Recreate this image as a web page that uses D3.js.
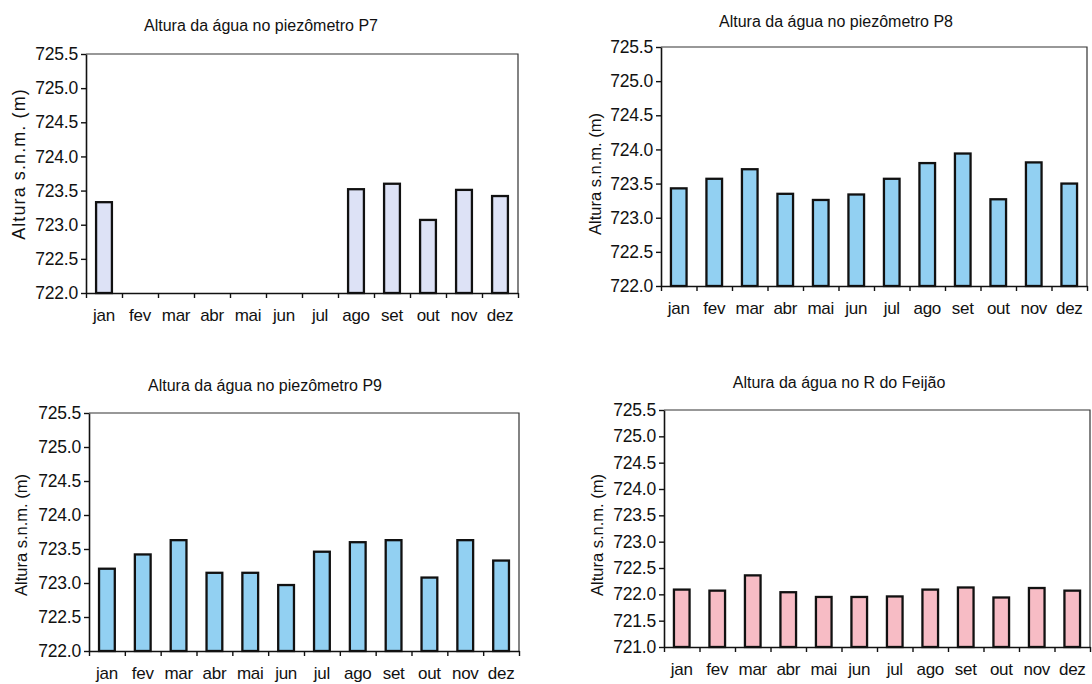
<!DOCTYPE html>
<html lang="pt">
<head>
<meta charset="utf-8">
<script src="https://cdn.jsdelivr.net/npm/d3@7/dist/d3.min.js"></script>
<style>
  html, body { margin: 0; padding: 0; background: #fff; }
  svg { display: block; font-family: "Liberation Sans", Arial, sans-serif; }
</style>
</head>
<body>
<svg id="chart" width="1092" height="684"></svg>
<script>
// Monthly water heights (m above sea level)
const months = ["jan", "fev", "mar", "abr", "mai", "jun", "jul", "ago", "set", "out", "nov", "dez"];

const p7Values = [723.33, null, null, null, null, null, null, 723.52, 723.60, 723.07, 723.51, 723.42];
const p8Values = [723.43, 723.57, 723.71, 723.35, 723.26, 723.34, 723.57, 723.80, 723.94, 723.27, 723.81, 723.50];
const p9Values = [723.21, 723.42, 723.63, 723.15, 723.15, 722.97, 723.46, 723.60, 723.63, 723.08, 723.63, 723.33];
const feijaoValues = [722.09, 722.07, 722.36, 722.04, 721.95, 721.95, 721.96, 722.09, 722.13, 721.94, 722.12, 722.07];

const titles = [
  "Altura da água no piezômetro P7",
  "Altura da água no piezômetro P8",
  "Altura da água no piezômetro P9",
  "Altura da água no R do Feijão"
];
const yAxisTitle = "Altura s.n.m. (m)";

const ticksPiezometer = [722.0, 722.5, 723.0, 723.5, 724.0, 724.5, 725.0, 725.5];
const ticksRiver = [721.0, 721.5, 722.0, 722.5, 723.0, 723.5, 724.0, 724.5, 725.0, 725.5];

// Layout of the four panels
const panels = [
  { title: titles[0], values: p7Values, ticks: ticksPiezometer, fill: "#dde2f6",
    box: { x0: 86, x1: 518, y0: 54, y1: 293 }, titleX: 261, titleY: 30.5,
    yLab: { x: 19, y: 164, size: 18, spacing: 1.1 } },
  { title: titles[1], values: p8Values, ticks: ticksPiezometer, fill: "#92d0f2",
    box: { x0: 661, x1: 1087, y0: 47, y1: 286 }, titleX: 836, titleY: 26.5,
    yLab: { x: 595, y: 174, size: 16.5, spacing: 0 } },
  { title: titles[2], values: p9Values, ticks: ticksPiezometer, fill: "#92d0f2",
    box: { x0: 89, x1: 519, y0: 413, y1: 651 }, titleX: 265, titleY: 391,
    yLab: { x: 21, y: 535, size: 16.5, spacing: 0 } },
  { title: titles[3], values: feijaoValues, ticks: ticksRiver, fill: "#f7bcc5",
    box: { x0: 664, x1: 1090, y0: 410, y1: 647 }, titleX: 839, titleY: 388,
    yLab: { x: 597, y: 535, size: 16.5, spacing: 0 } }
];

const svg = d3.select("#chart");
const ink = "#111";
const font = "'Liberation Sans', Arial, sans-serif";

panels.forEach(p => {
  const { x0, x1, y0, y1 } = p.box;
  const g = svg.append("g");

  const x = d3.scaleBand().domain(months).range([x0, x1]).paddingInner(0.56).paddingOuter(0.28);
  const slots = d3.scaleLinear().domain([0, months.length]).range([x0, x1]);
  const y = d3.scaleLinear().domain([p.ticks[0], p.ticks[p.ticks.length - 1]]).range([y1, y0]);

  // top and right frame lines
  g.append("path")
    .attr("d", `M${x0},${y0}H${x1}V${y1}`)
    .attr("fill", "none").attr("stroke", "#333").attr("stroke-width", 1.2);

  // bars
  const data = months.map((m, i) => ({ m, v: p.values[i] })).filter(d => d.v != null);
  g.selectAll("rect.bar").data(data).join("rect")
    .attr("class", "bar")
    .attr("x", d => x(d.m))
    .attr("width", x.bandwidth())
    .attr("y", d => y(d.v))
    .attr("height", d => y1 - y(d.v))
    .attr("fill", p.fill)
    .attr("stroke", ink)
    .attr("stroke-width", 2.3);

  // y axis
  const yAxis = g.append("g").attr("transform", `translate(${x0},0)`)
    .call(d3.axisLeft(y).tickValues(p.ticks).tickFormat(d3.format(".1f")).tickSize(5).tickSizeOuter(0).tickPadding(3));
  yAxis.selectAll("text").attr("font-size", 17.5).attr("fill", ink).style("font-family", font).attr("letter-spacing", -0.2);

  // x axis: tick marks between months
  const xTicks = g.append("g").attr("transform", `translate(0,${y1})`)
    .call(d3.axisBottom(slots).tickValues(d3.range(months.length + 1)).tickFormat("").tickSize(5).tickSizeOuter(0));

  // x axis: month labels
  const xLabels = g.append("g").attr("transform", `translate(0,${y1})`)
    .call(d3.axisBottom(x).tickSize(0).tickPadding(16));
  xLabels.select(".domain").remove();
  xLabels.selectAll("text").attr("font-size", 17).attr("fill", ink).style("font-family", font).attr("letter-spacing", -0.3);

  [yAxis, xTicks].forEach(a => {
    a.select(".domain").attr("stroke", ink).attr("stroke-width", 1.6);
    a.selectAll(".tick line").attr("stroke", ink).attr("stroke-width", 1.4);
  });

  // titles
  g.append("text")
    .attr("x", p.titleX).attr("y", p.titleY)
    .attr("text-anchor", "middle")
    .attr("font-size", 16).attr("fill", ink)
    .text(p.title);

  g.append("text")
    .attr("transform", `translate(${p.yLab.x},${p.yLab.y}) rotate(-90)`)
    .attr("text-anchor", "middle").attr("dy", "0.35em")
    .attr("font-size", p.yLab.size).attr("letter-spacing", p.yLab.spacing).attr("fill", ink)
    .text(yAxisTitle);
});
</script>
</body>
</html>
